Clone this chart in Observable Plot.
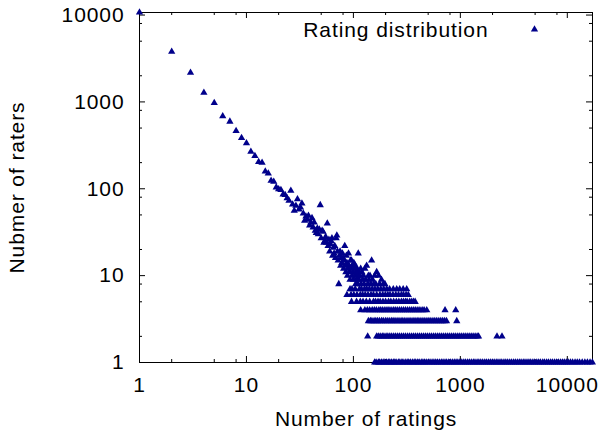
<!DOCTYPE html>
<html>
<head>
<meta charset="utf-8">
<script src="https://cdn.jsdelivr.net/npm/d3@7"></script>
<script src="https://cdn.jsdelivr.net/npm/@observablehq/plot@0.6"></script>
<style>
  html, body { margin: 0; padding: 0; background: #fff; }
</style>
</head>
<body>
<div id="chart"></div>
<script>
// ---- data ----
const scatterRatings = [1,2,3,4,5,6,7,8,9,10,11,12,13,14,15,16,17,18,19,20,21,22,23,24,25,26,27,28,29,30,
  31,32,33,34,35,36,37,38,39,40,41,42,43,44,45,46,47,48,49,50,51,52,53,54,55,56,57,58,59,60,
  61,62,63,64,65,66,67,68,69,70,71,72,73,74,75,76,77,78,79,80,81,82,83,84,85,86,87,88,89,90,
  91,92,93,94,95,96,97,98,99,100,101,102,103,104,105,106,107,108,109,110,111,112,113,115,117,118,120,122,124,126,
  128,130,133,136,138,140,143,145,148,151,155,158,162,165,172,176,183,190,197];
const scatterRaters = [10700,3790,2170,1280,975,685,594,464,385,335,268,239,204,200,158,150,124,121,104,99,97,86,85,78,73,95,66,56,64,76,
  58,61,68,52,43,48,44,49,38,41,46,36,41,33,31,35,30,34,65,27,33,32,24,25,28,24,40,22,26,19,
  23,25,27,17,21,18,22,16,27,29,19,15,8,17,19,13,16,14,18,16,12,15,22,13,11,17,14,10,12,18,
  13,11,9,15,12,15,10,13,11,9,14,12,10,13,8,11,9,12,10,8,18,11,9,10,12,8,11,9,10,8,
  12,9,13,8,10,9,10,8,15,9,8,10,8,11,10,8,9,8,8];

const sevenRaterRatings = [93,97,104,114,119,127,133,141,150,159,169,180,192,205,218,236,254,271,292,315];
const sixRaterRatings = [87,95,101,108,116,122,129,137,146,154,165,177,188,199,210,220,234,249,264,281,294,311,326];
const fiveRaterRatings = [96,107,116,123,132,142,154,161,170,178,189,200,213,224,238,252,266,281,294,307,318,336,351,365,378];
const fourRaterRatings = [117,128,135,142,150,157,164,173,180,188,197,206,215,225,236,246,257,269,281,294,307,321,336,351,367,383,401,419,439,458,485,719,905];
const threeRaterRatings = [138,144,149,156,162,168,175,183,190,199,207,216,226,235,245,256,267,279,290,303,317,331,345,361,377,394,410,428,447,466,487,508,530,554,577,602,629,656,684,713,742,925];
const twoRaterRatings = [136,165,171,178,186,193,202,210,219,228,238,248,259,270,282,294,307,321,335,350,365,381,398,415,433,452,472,492,514,536,560,584,610,636,664,693,724,755,788,823,859,896,936,976,1019,1064,1110,1159,1209,1262,1317,1375,1435,1480,2200,2450];
const oneRaterRatings = [158,163,171,176,183,190,197,204,212,219,227,236,244,251,263,272,284,291,305,318,329,341,356,370,383,399,412,431,447,462,480,503,521,544,566,589,611,637,664,689,718,745,779,806,841,877,912,948,990,1032,1077,1119,1168,1214,1266,1321,1370,1433,1489,1552,1618,1690,1757,1834,1909,1987,2071,2163,2248,2347,2441,2556,2660,2771,2894,3012,3145,3268,3411,3560,3702,3868,4021,4197,4380,4553,4762,4958,5184,5402,5617,5893,6120,6408,6671,6982,7264,7590,7920,8263,8640,9014,9378,9790,10210,10702,11210,11820,12394,13010,13780,14590,15420,16310,17150];

const xTickValues = [1, 10, 100, 1000, 10000];
const xTickLabels = ["1", "10", "100", "1000", "10000"];
const yTickValues = [1, 10, 100, 1000, 10000];
const yTickLabels = ["1", "10", "100", "1000", "10000"];
const xMinorTicks = [2,5,8,20,50,80,200,500,800,2000,5000,8000];
const yMinorTicks = [2,5,8,20,50,80,200,500,800,2000,5000,8000];

const xTitle = "Number of ratings";
const yTitle = "Nubmer of raters";
const seriesName = "Rating distribution";

// ---- build table ----
const points = scatterRatings.map((x, i) => ({ratings: x, raters: scatterRaters[i]}));
const rows = [[1, oneRaterRatings], [2, twoRaterRatings], [3, threeRaterRatings], [4, fourRaterRatings],
  [5, fiveRaterRatings], [6, sixRaterRatings], [7, sevenRaterRatings]];
for (const [level, xs] of rows) for (const x of xs) points.push({ratings: x, raters: level});

const color = "#00008b";
const font = "'Liberation Sans', Arial, Helvetica, sans-serif";
const xFmt = d => xTickLabels[xTickValues.indexOf(d)];
const yFmt = d => yTickLabels[yTickValues.indexOf(d)];

const W = 603, H = 433, ML = 139, MR = 11, MT = 12, MB = 71;
const frameW = W - ML - MR, frameH = H - MT - MB;
const major = 6, minor = 3;

const chart = Plot.plot({
  width: W,
  height: H,
  marginLeft: ML,
  marginRight: MR,
  marginTop: MT,
  marginBottom: MB,
  style: {fontFamily: font, fontSize: "21px", letterSpacing: "0.9px", color: "#000", background: "#fff", overflow: "visible"},
  x: {type: "log", domain: [1, 17200]},
  y: {type: "log", domain: [1, 10700]},
  marks: [
    // inward major ticks on all four sides
    Plot.tickX(xTickValues, {x: d => d, insetTop: frameH - major, stroke: "#000"}),
    Plot.tickX(xTickValues, {x: d => d, insetBottom: frameH - major, stroke: "#000"}),
    Plot.tickY(yTickValues, {y: d => d, insetRight: frameW - major, stroke: "#000"}),
    Plot.tickY(yTickValues, {y: d => d, insetLeft: frameW - major, stroke: "#000"}),
    // inward minor ticks
    Plot.tickX(xMinorTicks, {x: d => d, insetTop: frameH - minor, stroke: "#000"}),
    Plot.tickX(xMinorTicks, {x: d => d, insetBottom: frameH - minor, stroke: "#000"}),
    Plot.tickY(yMinorTicks, {y: d => d, insetRight: frameW - minor, stroke: "#000"}),
    Plot.tickY(yMinorTicks, {y: d => d, insetLeft: frameW - minor, stroke: "#000"}),
    // tick labels
    Plot.axisX(xTickValues, {anchor: "bottom", tickSize: 0, tickPadding: 15, tickFormat: xFmt, label: null, fill: "#000"}),
    Plot.axisY(yTickValues, {anchor: "left", tickSize: 0, tickPadding: 15, tickFormat: yFmt, label: null, fill: "#000"}),
    Plot.frame({stroke: "#000", strokeWidth: 1}),
    // data
    Plot.dot(points, {x: "ratings", y: "raters", symbol: "triangle", r: 2.7, fill: color, stroke: "none"}),
    // axis titles
    Plot.text([xTitle], {frameAnchor: "bottom", textAnchor: "middle", lineAnchor: "bottom", dy: 63, fill: "#000"}),
    Plot.text([yTitle], {frameAnchor: "left", textAnchor: "middle", rotate: -90, lineAnchor: "middle", dx: -122, fill: "#000"}),
    // legend
    Plot.text([seriesName], {frameAnchor: "top-right", textAnchor: "end", lineAnchor: "bottom", dx: -104, dy: 24, fill: "#000"}),
    Plot.dot([seriesName], {frameAnchor: "top-right", dx: -58, dy: 17, symbol: "triangle", r: 2.7, fill: color, stroke: "none"})
  ]
});
document.getElementById("chart").appendChild(chart);
</script>
</body>
</html>
